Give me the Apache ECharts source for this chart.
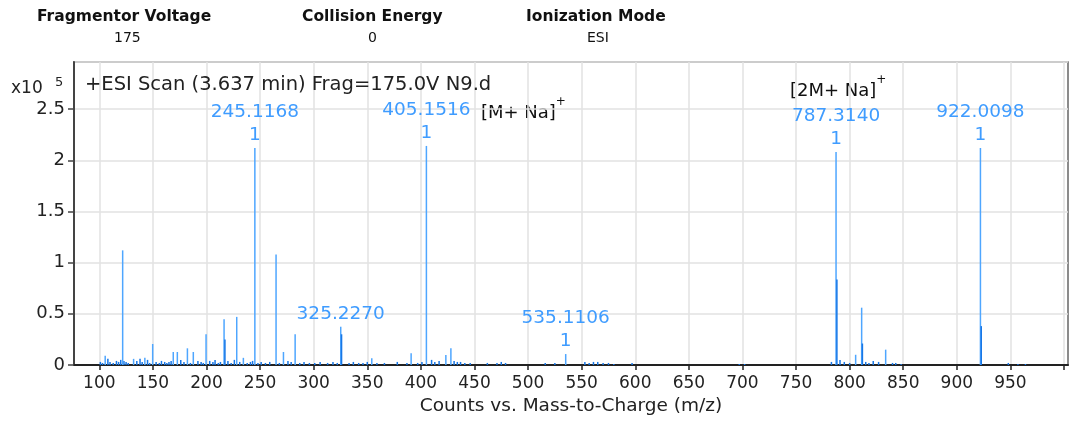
<!DOCTYPE html>
<html>
<head>
<meta charset="utf-8">
<script src="https://cdn.jsdelivr.net/npm/echarts@6/dist/echarts.min.js"></script>
<style>
  html, body { margin: 0; padding: 0; background: #fff; }
  #chart { width: 1072px; height: 423px; }
</style>
</head>
<body>
<div id="chart"></div>
<script>
// main sticks (m/z, counts x10^5)
const peakMz = [105.5, 121.8, 132, 142.5, 149.8, 169, 172.8, 182.2, 187.7, 199.6, 216.4, 228.2, 234.4, 245.1168, 264.9, 271.8, 282.7, 325.2270, 354.2, 390.9, 405.1516, 423.3, 428, 535.1106, 787.3140, 805.6, 811.2, 833.6, 922.0098];
const peakInt = [0.09, 1.12, 0.06, 0.07, 0.205, 0.127, 0.127, 0.163, 0.127, 0.30, 0.446, 0.47, 0.07, 2.12, 1.08, 0.127, 0.30, 0.374, 0.065, 0.114, 2.14, 0.098, 0.163, 0.107, 2.08, 0.10, 0.56, 0.15, 2.12];
// darker neighbour sticks
const subMz = [217.2, 326.0, 788.1, 811.9, 922.8];
const subInt = [0.25, 0.30, 0.835, 0.21, 0.38];
// baseline noise
const noiseMz = [101, 103, 108, 110, 113, 116, 118, 120, 123, 125, 127, 135, 138, 140, 145, 147, 153, 156, 158, 161, 163, 165, 167, 176, 179, 185, 192, 195, 197, 203, 206, 208, 211, 213, 220, 223, 226, 231, 238, 241, 243, 248, 251, 255, 259, 268, 276, 279, 287, 291, 296, 301, 306, 313, 318, 322, 333, 337, 342, 346, 350, 359, 366, 378, 387, 397, 401, 410, 413, 417, 431, 434, 437, 441, 446, 462, 471, 475, 479, 516, 525, 553, 557, 561, 565, 570, 575, 580, 597, 697, 702, 783, 791, 795, 800, 815, 818, 822, 827, 840, 843, 848, 948, 957, 964];
const noiseInt = [0.03, 0.02, 0.06, 0.03, 0.02, 0.04, 0.03, 0.05, 0.04, 0.03, 0.02, 0.04, 0.06, 0.03, 0.05, 0.02, 0.03, 0.02, 0.04, 0.03, 0.02, 0.03, 0.04, 0.05, 0.03, 0.02, 0.04, 0.03, 0.02, 0.04, 0.03, 0.05, 0.02, 0.03, 0.04, 0.02, 0.05, 0.03, 0.02, 0.03, 0.04, 0.02, 0.03, 0.02, 0.03, 0.02, 0.04, 0.03, 0.02, 0.03, 0.02, 0.02, 0.03, 0.02, 0.03, 0.02, 0.02, 0.03, 0.02, 0.02, 0.03, 0.02, 0.02, 0.03, 0.02, 0.02, 0.03, 0.05, 0.03, 0.04, 0.04, 0.03, 0.03, 0.02, 0.02, 0.02, 0.02, 0.03, 0.02, 0.02, 0.02, 0.03, 0.02, 0.03, 0.03, 0.02, 0.02, 0.01, 0.02, 0.01, 0.01, 0.03, 0.05, 0.03, 0.02, 0.03, 0.02, 0.04, 0.03, 0.02, 0.02, 0.01, 0.02, 0.01, 0.01];
// labelled peaks: m/z -> text
const peakLabels = { 245.1168: '245.1168\n1', 325.2270: '325.2270', 405.1516: '405.1516\n1', 535.1106: '535.1106\n1', 787.3140: '787.3140\n1', 922.0098: '922.0098\n1' };
const xTicks = [100, 150, 200, 250, 300, 350, 400, 450, 500, 550, 600, 650, 700, 750, 800, 850, 900, 950, 1000];
const xTickLabels = [100, 150, 200, 250, 300, 350, 400, 450, 500, 550, 600, 650, 700, 750, 800, 850, 900, 950];

const light = '#4ea6ff';
const dark = '#1877e6';
const font = '"DejaVu Sans", Verdana, sans-serif';

const mainData = peakMz.map(function (m, i) {
  const item = { value: [m, peakInt[i]] };
  if (peakLabels[m]) {
    item.label = { show: true, position: 'top', distance: 1, formatter: peakLabels[m], color: '#3f9cff', fontSize: 18.5, lineHeight: 23, fontFamily: font };
  }
  return item;
});

// ion annotation with superscript plus
function ion(text, x, y) {
  return {
    type: 'text', left: x, top: y,
    style: {
      text: '{a|' + text + '}{s|+}',
      rich: {
        a: { fontSize: 18, fontFamily: font, fill: '#111', lineHeight: 26, verticalAlign: 'bottom' },
        s: { fontSize: 12, fontFamily: font, fill: '#111', lineHeight: 26, verticalAlign: 'top' }
      }
    }
  };
}

const chart = echarts.init(document.getElementById('chart'));
chart.setOption({
  animation: false,
  backgroundColor: '#fff',
  grid: { left: 74, right: 4, top: 62, bottom: 58, show: true, borderColor: '#666', borderWidth: 1.5 },
  title: {
    text: '+ESI Scan (3.637 min) Frag=175.0V N9.d',
    left: 80, top: 70,
    textStyle: { fontSize: 19.5, fontWeight: 'normal', color: '#222', fontFamily: font }
  },
  graphic: [
    { type: 'text', left: 37, top: 9, style: { text: 'Fragmentor Voltage', font: 'bold 15.5px "DejaVu Sans"', fill: '#111' } },
    { type: 'text', left: 114, top: 31, style: { text: '175', font: '14px "DejaVu Sans"', fill: '#111' } },
    { type: 'text', left: 302, top: 9, style: { text: 'Collision Energy', font: 'bold 15.5px "DejaVu Sans"', fill: '#111' } },
    { type: 'text', left: 368, top: 31, style: { text: '0', font: '14px "DejaVu Sans"', fill: '#111' } },
    { type: 'text', left: 526, top: 9, style: { text: 'Ionization Mode', font: 'bold 15.5px "DejaVu Sans"', fill: '#111' } },
    { type: 'text', left: 587, top: 31, style: { text: 'ESI', font: '14px "DejaVu Sans"', fill: '#111' } },
    { type: 'text', left: 11, top: 80, style: { text: 'x10', font: '17px ' + font, fill: '#222' } },
    { type: 'text', left: 55, top: 76, style: { text: '5', font: '13px ' + font, fill: '#222' } },
    ion('[M+ Na]', 481, 96),
    ion('[2M+ Na]', 790, 74)
  ],
  xAxis: {
    type: 'value',
    min: 76.4, max: 1003.7,
    name: 'Counts vs. Mass-to-Charge (m/z)',
    nameLocation: 'middle', nameGap: 30,
    nameTextStyle: { fontSize: 18.5, color: '#222', fontFamily: font },
    axisLine: { lineStyle: { color: '#222', width: 2 } },
    axisTick: { show: true, length: 5, customValues: xTicks, lineStyle: { color: '#222', width: 1.5 } },
    axisLabel: { customValues: xTickLabels, fontSize: 17, color: '#222', margin: 10, fontFamily: font },
    splitLine: { show: true, lineStyle: { color: '#e2e2e2', width: 1.5 } }
  },
  yAxis: {
    type: 'value',
    min: 0, max: 2.96, interval: 0.5,
    axisLine: { show: true, lineStyle: { color: '#444', width: 2 } },
    axisTick: { show: true, length: 6, lineStyle: { color: '#444', width: 1.5 } },
    axisLabel: {
      fontSize: 18, color: '#222', margin: 9, fontFamily: font, showMaxLabel: false,
      formatter: function (v) { return (Math.round(v * 2) === v * 2) ? String(v) : ''; }
    },
    splitLine: { show: true, lineStyle: { color: '#e2e2e2', width: 1.5 } }
  },
  series: [
    { type: 'bar', name: 'noise', data: noiseMz.map(function (m, i) { return [m, noiseInt[i]]; }), barWidth: 1.5, barGap: '-100%', itemStyle: { color: dark }, silent: true },
    { type: 'bar', name: 'main', data: mainData, barWidth: 1.5, barGap: '-100%', itemStyle: { color: light }, silent: true },
    { type: 'bar', name: 'sub', data: subMz.map(function (m, i) { return [m, subInt[i]]; }), barWidth: 1.5, barGap: '-100%', itemStyle: { color: dark }, silent: true }
  ]
});
</script>
</body>
</html>
